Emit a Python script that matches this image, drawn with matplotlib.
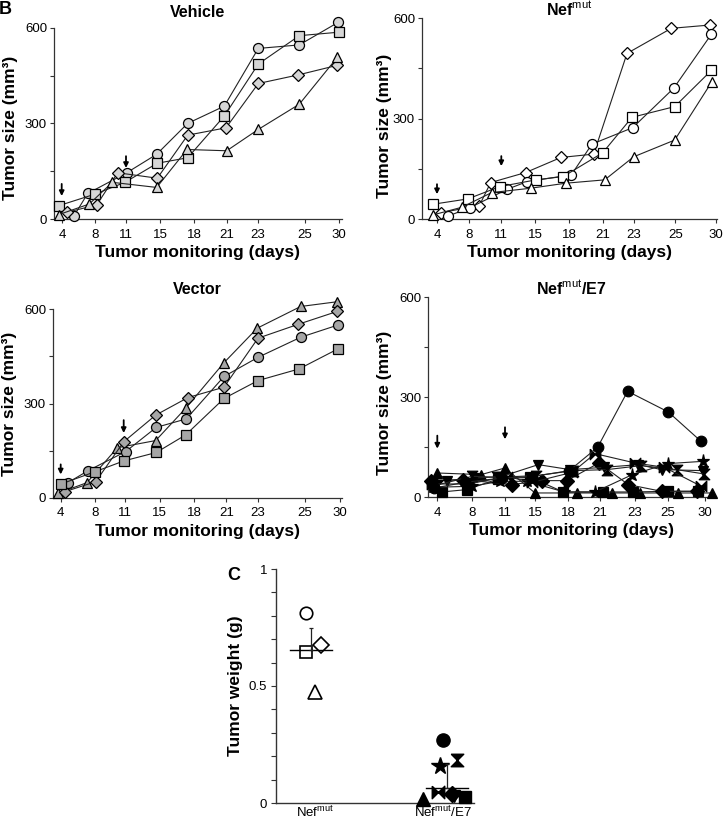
import numpy as np
import matplotlib
matplotlib.use('Agg')
import matplotlib.pyplot as plt

plt.rcParams['font.family'] = ['Liberation Sans', 'DejaVu Sans']
plt.rcParams['mathtext.fontset'] = 'custom'
plt.rcParams['mathtext.rm'] = 'Liberation Sans'
plt.rcParams['mathtext.it'] = 'Liberation Sans:italic'
plt.rcParams['mathtext.bf'] = 'Liberation Sans:bold'

# ---------------- data ----------------
day_labels = ['4', '8', '11', '15', '18', '21', '23', '25', '30']

# Vehicle (x = position along the monitoring axis, y = tumor size mm3)
veh_circle_x = [2.0, 3.37, 7.27, 10.27, 13.37, 17.03, 20.43, 24.53, 28.43]
veh_circle_y = [10, 80, 145, 203, 300, 354, 535, 546, 617]
veh_square_x = [0.5, 4.1, 7.1, 10.33, 13.37, 17.03, 20.43, 24.53, 28.53]
veh_square_y = [42, 78, 115, 175, 192, 323, 486, 575, 586]
veh_diamond_x = [1.27, 4.27, 6.37, 10.33, 13.37, 17.2, 20.43, 24.43, 28.33]
veh_diamond_y = [21, 44, 145, 128, 263, 286, 425, 452, 482]
veh_triangle_x = [0.5, 3.53, 5.83, 10.27, 13.3, 17.27, 20.43, 24.53, 28.33]
veh_triangle_y = [14, 47, 115, 99, 218, 214, 281, 360, 507]

# Nef-mut
nef_diamond_x = [1.87, 5.73, 6.87, 10.37, 13.9, 17.17, 20.5, 24.93, 28.83]
nef_diamond_y = [19, 40, 109, 139, 184, 194, 495, 570, 580]
nef_circle_x = [2.63, 4.8, 8.53, 10.53, 14.93, 17.0, 21.07, 25.17, 28.93]
nef_circle_y = [9, 34, 89, 112, 132, 224, 273, 391, 552]
nef_square_x = [1.07, 4.57, 7.8, 11.4, 14.13, 18.07, 21.0, 25.27, 28.93]
nef_square_y = [44, 60, 97, 117, 127, 198, 304, 336, 444]
nef_triangle_x = [1.07, 3.97, 6.97, 10.87, 14.37, 18.27, 21.17, 25.27, 29.0]
nef_triangle_y = [12, 35, 79, 92, 107, 117, 186, 236, 411]

# Vector
vec_triangle_x = [0.5, 3.4, 6.43, 10.27, 13.27, 17.1, 20.43, 24.77, 28.4]
vec_triangle_y = [14, 48, 159, 182, 285, 430, 540, 609, 624]
vec_diamond_x = [1.17, 4.27, 7.07, 10.27, 13.5, 17.1, 20.5, 24.5, 28.4]
vec_diamond_y = [19, 51, 178, 263, 319, 352, 508, 552, 593]
vec_circle_x = [1.5, 3.5, 7.27, 10.33, 13.33, 17.1, 20.5, 24.77, 28.5]
vec_circle_y = [48, 86, 147, 224, 251, 386, 447, 511, 550]
vec_square_x = [0.83, 4.23, 7.07, 10.33, 13.27, 17.1, 20.5, 24.6, 28.5]
vec_square_y = [44, 83, 117, 144, 200, 316, 373, 410, 474]

# Nef-mut/E7
e7_circle_x = [0.6, 3.7, 7.4, 10.4, 14.1, 16.93, 19.93, 24.0, 27.27]
e7_circle_y = [28, 45, 58, 62, 80, 150, 318, 256, 168]
e7_triup_x = [0.83, 5.27, 7.67, 10.67, 14.83, 18.33, 21.17, 25.0, 28.33]
e7_triup_y = [73, 68, 88, 13, 13, 13, 13, 13, 13]
e7_diamond_x = [0.27, 3.5, 8.33, 11.33, 13.83, 17.07, 20.0, 23.33, 26.9]
e7_diamond_y = [50, 53, 38, 50, 50, 103, 38, 18, 18]
e7_tridown_x = [1.83, 4.6, 7.3, 11.0, 14.17, 17.6, 21.0, 23.33, 27.5]
e7_tridown_y = [50, 58, 62, 98, 83, 90, 98, 83, 80]
e7_star_x = [0.5, 4.33, 7.2, 9.83, 13.6, 16.67, 20.4, 23.93, 27.5]
e7_star_y = [30, 33, 48, 48, 16, 16, 68, 101, 108]
e7_square_x = [1.33, 3.83, 7.0, 10.2, 13.5, 17.5, 20.5, 24.0, 27.0]
e7_square_y = [16, 23, 55, 60, 16, 16, 16, 18, 18]
e7_bowtie_x = [0.4, 4.0, 7.9, 10.4, 14.4, 16.67, 20.67, 23.6, 27.3]
e7_bowtie_y = [40, 40, 62, 45, 75, 131, 103, 90, 33]
e7_hourglass_x = [1.0, 4.4, 6.9, 10.8, 14.5, 17.83, 21.3, 24.83, 27.6]
e7_hourglass_y = [38, 63, 60, 65, 80, 83, 95, 83, 70]

# Panel C: tumor weight (g)
weight_groups = ['Nef$^{\\mathrm{mut}}$', 'Nef$^{\\mathrm{mut}}$/E7']
nef_weight = [0.813, 0.647, 0.675, 0.473]
nef_weight_jitter = [-0.033, -0.033, 0.077, 0.029]
e7_weight = [0.271, 0.158, 0.184, 0.016, 0.048, 0.038, 0.030, 0.027]
e7_weight_jitter = [-0.027, -0.051, 0.076, -0.174, -0.064, 0.035, 0.05, 0.132]
weight_mean = [0.652, 0.065]
weight_sd = [0.096, 0.102]

# ---------------- styling ----------------
hourglass = [(-1, 1), (1, 1), (-1, -1), (1, -1), (-1, 1)]
bowtie = [(-1, 1), (-1, -1), (1, 1), (1, -1), (-1, 1)]

fig = plt.figure(figsize=(7.24, 8.19), dpi=100)
W, H = 724.0, 819.0


def add_ax(x0, x1, ytop, ybot):
    return fig.add_axes([x0 / W, 1 - ybot / H, (x1 - x0) / W, (ybot - ytop) / H])


def style_panel(ax, xmax, ticks, title, pad, ylab_xy):
    ax.set_xlim(0, xmax)
    ax.set_ylim(0, 600)
    ax.set_xticks(ticks)
    ax.set_xticklabels(day_labels)
    ax.set_yticks([0, 300, 600])
    ax.set_yticks([150, 450], minor=True)
    for s in ['top', 'right']:
        ax.spines[s].set_visible(False)
    for s in ['left', 'bottom']:
        ax.spines[s].set_linewidth(0.9)
        ax.spines[s].set_color('#333333')
    ax.tick_params(axis='both', which='both', direction='out', length=3,
                   width=0.8, labelsize=9.5, color='#333333')
    ax.tick_params(axis='x', pad=4)
    ax.tick_params(axis='y', pad=2)
    ax.set_title(title, fontsize=11.5, fontweight='bold', pad=pad)
    ax.set_xlabel('Tumor monitoring (days)', fontsize=12.5, fontweight='bold', labelpad=3)
    ax.set_ylabel('Tumor size (mm³)', fontsize=12.5, fontweight='bold')
    ax.yaxis.set_label_coords(*ylab_xy)


def series(ax, x, y, marker, face, ms=7.2):
    ax.plot(x, y, color='#222222', lw=0.8, marker=marker, ms=ms, mfc=face,
            mec='black', mew=0.9, clip_on=False, zorder=3)


def arrow(ax, x, tail, tip):
    ax.annotate('', xy=(x, tip), xytext=(x, tail),
                arrowprops=dict(arrowstyle='-|>', color='black', lw=1.3,
                                mutation_scale=7, shrinkA=0, shrinkB=0))


# Vehicle
ax1 = add_ax(54, 342, 27.7, 219)
veh_face = '#d6d6d6'
series(ax1, veh_circle_x, veh_circle_y, 'o', veh_face)
series(ax1, veh_square_x, veh_square_y, 's', veh_face)
series(ax1, veh_diamond_x, veh_diamond_y, 'D', veh_face, ms=6.6)
series(ax1, veh_triangle_x, veh_triangle_y, '^', veh_face, ms=7.6)
style_panel(ax1, 28.8, [0.8, 4.1, 7.2, 10.6, 14.0, 17.3, 20.4, 25.1, 28.5], 'Vehicle', 8,
            (-0.124, 0.476))
arrow(ax1, 0.77, 110, 72)
arrow(ax1, 7.2, 197, 160)

# Nef-mut
ax2 = add_ax(422, 717, 18.3, 219)
series(ax2, nef_diamond_x, nef_diamond_y, 'D', 'white', ms=6.6)
series(ax2, nef_circle_x, nef_circle_y, 'o', 'white')
series(ax2, nef_square_x, nef_square_y, 's', 'white')
series(ax2, nef_triangle_x, nef_triangle_y, '^', 'white', ms=7.6)
style_panel(ax2, 29.5, [1.5, 4.73, 7.93, 11.33, 14.73, 18.07, 21.17, 25.33, 29.4],
            'Nef$^{\\mathrm{mut}}$', 2, (-0.1, 0.465))
arrow(ax2, 1.5, 104, 74)
arrow(ax2, 7.93, 188, 158)

# Vector
ax3 = add_ax(53, 342, 309.3, 497.7)
vec_face = '#a6a6a6'
series(ax3, vec_triangle_x, vec_triangle_y, '^', vec_face, ms=7.6)
series(ax3, vec_diamond_x, vec_diamond_y, 'D', vec_face, ms=6.6)
series(ax3, vec_circle_x, vec_circle_y, 'o', vec_face)
series(ax3, vec_square_x, vec_square_y, 's', vec_face)
style_panel(ax3, 28.9, [0.77, 4.17, 7.17, 10.67, 14.1, 17.33, 20.5, 25.17, 28.67], 'Vector', 11,
            (-0.124, 0.5))
arrow(ax3, 0.77, 106, 74)
arrow(ax3, 7.07, 247, 206)

# Nef-mut/E7
ax4 = add_ax(428.3, 715, 297.3, 497.3)
e7_ms = 7.6
series(ax4, e7_triup_x, e7_triup_y, '^', 'black', ms=e7_ms)
series(ax4, e7_square_x, e7_square_y, 's', 'black', ms=e7_ms)
series(ax4, e7_star_x, e7_star_y, '*', 'black', ms=e7_ms + 2)
series(ax4, e7_diamond_x, e7_diamond_y, 'D', 'black', ms=e7_ms - 0.6)
series(ax4, e7_tridown_x, e7_tridown_y, 'v', 'black', ms=e7_ms)
series(ax4, e7_hourglass_x, e7_hourglass_y, hourglass, 'black', ms=e7_ms)
series(ax4, e7_bowtie_x, e7_bowtie_y, bowtie, 'black', ms=e7_ms)
series(ax4, e7_circle_x, e7_circle_y, 'o', 'black', ms=e7_ms)
style_panel(ax4, 28.67, [0.9, 4.33, 7.67, 10.67, 14.0, 17.17, 20.67, 23.93, 27.67],
            'Nef$^{\\mathrm{mut}}$/E7', 1.5, (-0.128, 0.47))
arrow(ax4, 0.9, 185, 146)
arrow(ax4, 7.67, 210, 174)

# Panel C
ax5 = add_ax(276, 474, 569, 803)
nef_markers = ['o', 's', 'D', '^']
nef_ms = [9, 9, 8.5, 9.5]
for v, j, m, s in zip(nef_weight, nef_weight_jitter, nef_markers, nef_ms):
    ax5.plot(1 + j, v, marker=m, ms=s, mfc='white', mec='black', mew=1.2,
             ls='none', clip_on=False, zorder=3)
e7_markers = ['o', '*', hourglass, '^', bowtie, 'D', 'v', 's']
e7_msz = [9.5, 13, 9, 10, 9, 8.5, 8.5, 9]
for v, j, m, s in zip(e7_weight, e7_weight_jitter, e7_markers, e7_msz):
    ax5.plot(2 + j, v, marker=m, ms=s, mfc='black', mec='black', mew=1.0,
             ls='none', clip_on=False, zorder=3)
for i, (mu, sd) in enumerate(zip(weight_mean, weight_sd)):
    pos = i + 1
    ax5.plot([pos - 0.155, pos + 0.155], [mu, mu], color='black', lw=1.0, zorder=4)
    ax5.errorbar([pos], [mu], yerr=[[0], [sd]], fmt='none', ecolor='#222222',
                 elinewidth=0.9, capsize=1.5, capthick=0.9, zorder=4)
ax5.set_xlim(0.743, 2.199)
ax5.set_ylim(0, 1)
ax5.set_xticks([1.03, 1.97])
ax5.set_xticklabels(weight_groups, fontsize=9.5)
ax5.set_yticks([0, 0.5, 1])
ax5.set_yticklabels(['0', '0.5', '1'])
ax5.set_yticks(np.arange(0.1, 1.0, 0.1), minor=True)
for s in ['top', 'right']:
    ax5.spines[s].set_visible(False)
for s in ['left', 'bottom']:
    ax5.spines[s].set_linewidth(1.0)
    ax5.spines[s].set_color('#333333')
ax5.tick_params(axis='y', which='both', direction='out', length=3.5, width=0.8,
                labelsize=9.5, pad=3, color='#333333')
ax5.tick_params(axis='x', length=0, pad=1)
ax5.set_ylabel('Tumor weight (g)', fontsize=12.5, fontweight='bold', labelpad=4)

fig.text(5 / W, 1 - 9 / H, 'B', fontsize=13, fontweight='bold', ha='center', va='center')
fig.text(234 / W, 1 - 575 / H, 'C', fontsize=13, fontweight='bold', ha='center', va='center')

fig.savefig('out.png', dpi=100)
